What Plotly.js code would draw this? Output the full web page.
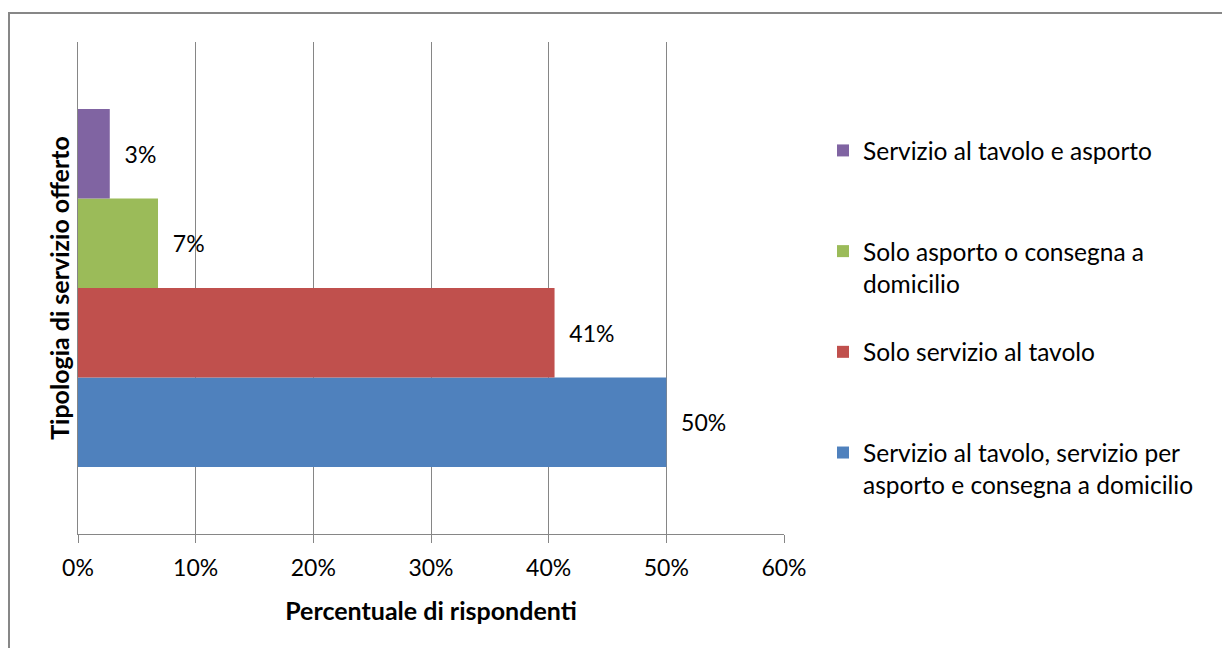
<!DOCTYPE html>
<html>
<head>
<meta charset="utf-8">
<script src="https://cdn.plot.ly/plotly-3.0.1.min.js"></script>
<style>
  html, body { margin: 0; padding: 0; background: #ffffff; }
  #wrap { position: relative; width: 1222px; height: 648px; overflow: hidden; }
  #chart { width: 1222px; height: 648px; }
  #frame { position: absolute; left: 8px; top: 12px; width: 1300px; height: 700px;
           border-top: 2px solid #878787; border-left: 2px solid #878787; pointer-events: none; }
</style>
</head>
<body>
<div id="wrap">
  <div id="chart"></div>
  <div id="frame"></div>
</div>
<script>
// ---- data (bottom bar first) ----
const seriesNames = [
  "Servizio al tavolo, servizio per<br>asporto e consegna a domicilio",
  "Solo servizio al tavolo<br> ",
  "Solo asporto o consegna a<br>domicilio",
  "Servizio al tavolo e asporto<br> "
];
const seriesValues = [0.500, 0.405, 0.068, 0.027];
const seriesColors = ["#4F81BD", "#C0504D", "#9BBB59", "#8064A2"];
const legendRanks = [4, 3, 2, 1];
const category = ["Tipologia"];
const xTickVals = [0, 0.1, 0.2, 0.3, 0.4, 0.5, 0.6];

const FONT = "Lato, 'Noto Sans', sans-serif";
const FS = 23;
const FS_LEG = 24.5;
const FS_TITLE = 25;

const traces = seriesNames.map((name, i) => ({
  type: "bar",
  orientation: "h",
  name: name,
  legendgroup: "g" + i,
  legendrank: legendRanks[i],
  x: [seriesValues[i]],
  y: category,
  marker: { color: seriesColors[i], line: { width: 0 } },
  texttemplate: "\u00a0\u00a0%{x:.0%}",
  textposition: "outside",
  cliponaxis: false,
  textfont: { family: FONT, size: FS, color: "#000000" },
  hoverinfo: "skip"
}));

const layout = {
  width: 1222,
  height: 648,
  margin: { l: 78, r: 438, t: 42, b: 114, pad: 0 },
  paper_bgcolor: "#ffffff",
  plot_bgcolor: "#ffffff",
  font: { family: FONT, size: FS, color: "#000000" },
  barmode: "group",
  bargap: 0.272,
  bargroupgap: 0,
  showlegend: true,
  legend: {
    traceorder: "grouped",
    tracegroupgap: 34,
    valign: "top",
    xref: "container", yref: "container",
    x: 823 / 1222, xanchor: "left",
    y: 1 - 128 / 648, yanchor: "top",
    maxheight: 600,
    font: { family: FONT, size: FS_LEG, color: "#000000" },
    bgcolor: "rgba(0,0,0,0)",
    borderwidth: 0
  },
  xaxis: {
    range: [0, 0.6],
    tickvals: xTickVals,
    tickformat: ".0%",
    showgrid: true,
    gridcolor: "#868686",
    gridwidth: 1,
    showline: true,
    linecolor: "#868686",
    linewidth: 1,
    ticks: "outside",
    ticklen: 8,
    tickcolor: "#868686",
    ticklabelstandoff: 5,
    zeroline: false,
    tickfont: { family: FONT, size: FS, color: "#000000" },
    title: {
      text: "Percentuale di rispondenti",
      font: { family: FONT, size: FS_TITLE, color: "#000000", weight: "bold" },
      standoff: 22
    },
    fixedrange: true
  },
  yaxis: {
    type: "category",
    showticklabels: false,
    ticks: "",
    showgrid: false,
    showline: true,
    linecolor: "#868686",
    linewidth: 1,
    zeroline: false,
    title: {
      text: "Tipologia di servizio offerto",
      font: { family: FONT, size: FS_TITLE, color: "#000000", weight: "bold" },
      standoff: 0
    },
    fixedrange: true
  }
};

Plotly.newPlot("chart", traces, layout, { displayModeBar: false, staticPlot: true });
</script>
</body>
</html>
